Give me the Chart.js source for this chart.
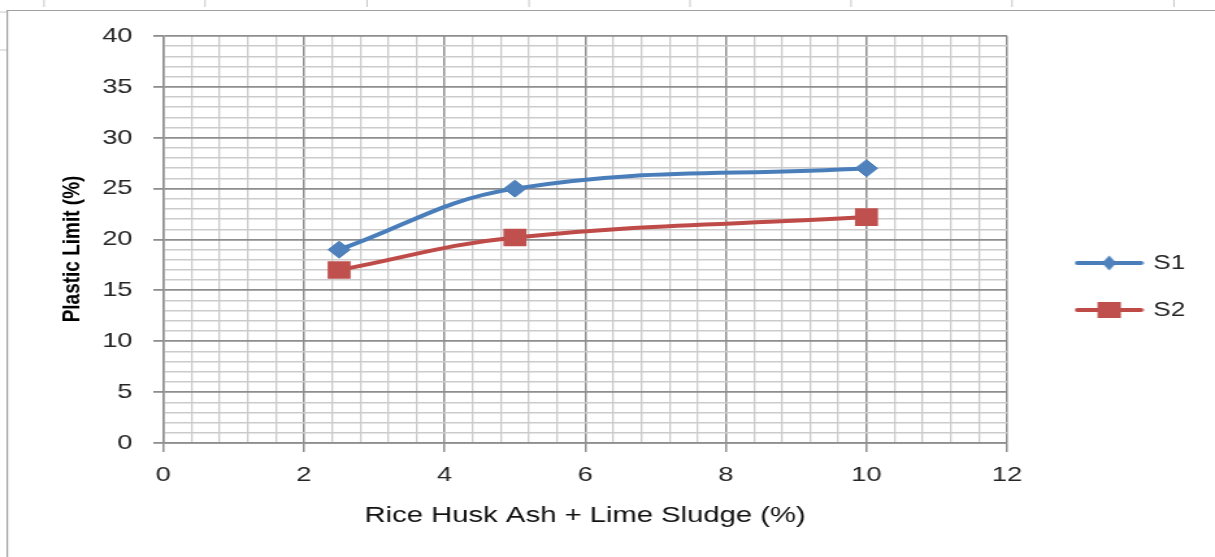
<!DOCTYPE html>
<html><head><meta charset="utf-8">
<script src="https://cdn.jsdelivr.net/npm/chart.js@4/dist/chart.umd.min.js"></script>
<style>html,body{margin:0;padding:0;background:#fff;overflow:hidden}canvas{display:block}</style>
</head><body>
<canvas id="c" width="935" height="557" style="width:1215px;height:557px"></canvas>
<script>
// ---- data ----
const xValues = [2.5, 5, 10];
const s1Values = [19, 25, 27];
const s2Values = [17, 20.2, 22.2];
const seriesNames = ['S1', 'S2'];
const xTickLabels = ['0', '2', '4', '6', '8', '10', '12'];
const yTickLabels = ['0', '5', '10', '15', '20', '25', '30', '35', '40'];
const xTitle = 'Rice Husk Ash + Lime Sludge (%)';
const yTitle = 'Plastic Limit (%)';

// ---- layout / style ----
const W = 935, H = 557, S = 1215 / 935;
const PAD = {top: 36, left: 38, right: 13, bottom: 20};
const PLOT_LEFT = 125.7, PLOT_RIGHT = 775;
const FONT = "'Liberation Sans', Arial, sans-serif";
const MAJOR = '#8e8e8e', MINOR = '#cbcbcb';
const BLUE_L = '#4A7EBB', BLUE_M = '#4F81BD', RED_L = '#BE4B48', RED_M = '#C0504D';

const isMajorX = v => Math.abs(v / 2 - Math.round(v / 2)) < 1e-6;
const isMajorY = v => Math.abs(v / 5 - Math.round(v / 5)) < 1e-6;

function makeIcon(color, fill, style) {
  const c = document.createElement('canvas');
  c.width = 54; c.height = 22;
  const g = c.getContext('2d');
  g.strokeStyle = color; g.lineWidth = 4; g.lineCap = 'round';
  g.beginPath(); g.moveTo(2.5, 11); g.lineTo(51.5, 11); g.stroke();
  g.fillStyle = fill;
  if (style === 'diamond') {
    g.beginPath(); g.moveTo(21.5, 11); g.lineTo(27, 3.5); g.lineTo(32.5, 11); g.lineTo(27, 18.5); g.closePath(); g.fill();
  } else {
    g.fillRect(18, 3, 18, 16);
  }
  return c;
}
const icons = [makeIcon(BLUE_L, BLUE_M, 'diamond'), makeIcon(RED_L, RED_M, 'square')];

const framePlugin = {
  id: 'frame',
  beforeDraw(chart) {
    const ctx = chart.ctx;
    ctx.save();
    ctx.fillStyle = '#fff';
    ctx.fillRect(0, 0, chart.width, chart.height);
    ctx.strokeStyle = '#a0a0a0'; ctx.lineWidth = 1.2;
    ctx.beginPath();
    ctx.moveTo(5.6, H); ctx.lineTo(5.6, 10.5); ctx.lineTo(W, 10.5);
    ctx.stroke();
    ctx.strokeStyle = '#c8c8c8'; ctx.lineWidth = 1;
    ctx.beginPath();
    [44, 205, 367, 529, 690, 851, 1012, 1174].forEach(px => { const x = px / S; ctx.moveTo(x, 0); ctx.lineTo(x, 7); });
    [12, 50].forEach(py => { ctx.moveTo(0, py); ctx.lineTo(5, py); });
    ctx.stroke();
    ctx.restore();
  }
};

new Chart(document.getElementById('c'), {
  type: 'line',
  data: {
    datasets: [
      {
        label: seriesNames[0],
        data: xValues.map((x, i) => ({x: x, y: s1Values[i]})),
        borderColor: BLUE_L, backgroundColor: BLUE_M,
        pointStyle: 'rectRot', pointRadius: 8.5, pointBorderWidth: 1,
        pointBackgroundColor: BLUE_M, pointBorderColor: BLUE_L,
        borderWidth: 4, tension: 0.4, borderCapStyle: 'round', borderJoinStyle: 'round', fill: false
      },
      {
        label: seriesNames[1],
        data: xValues.map((x, i) => ({x: x, y: s2Values[i]})),
        borderColor: RED_L, backgroundColor: RED_M,
        pointStyle: 'rect', pointRadius: 12.5, pointBorderWidth: 0,
        pointBackgroundColor: RED_M, pointBorderColor: RED_M,
        borderWidth: 4, tension: 0.4, borderCapStyle: 'round', borderJoinStyle: 'round', fill: false
      }
    ]
  },
  options: {
    responsive: false,
    devicePixelRatio: 1,
    animation: false,
    events: [],
    layout: {padding: PAD},
    scales: {
      x: {
        type: 'linear', min: 0, max: 12,
        afterFit(s) { s.height = H - PAD.bottom - 443; },
        ticks: {
          stepSize: 0.4, autoSkip: false, maxRotation: 0, padding: 11,
          font: {family: FONT, size: 21}, color: '#262626',
          callback: v => isMajorX(v) ? xTickLabels[Math.round(v / 2)] : ''
        },
        grid: {
          color: c => (c.tick && isMajorX(c.tick.value)) ? MAJOR : MINOR,
          tickColor: c => (c.tick && isMajorX(c.tick.value)) ? MAJOR : 'rgba(0,0,0,0)',
          lineWidth: c => (c.tick && isMajorX(c.tick.value)) ? 1.5 : 1.3,
          tickLength: 9
        },
        border: {color: MAJOR, width: 1.5},
        title: {display: true, text: xTitle, font: {family: FONT, size: 22.5}, color: '#111', padding: {top: 0, bottom: 8}}
      },
      y: {
        type: 'linear', min: 0, max: 40,
        afterFit(s) { s.width = PLOT_LEFT - PAD.left; },
        ticks: {
          stepSize: 1, autoSkip: false, padding: 16,
          font: {family: FONT, size: 21}, color: '#262626',
          callback: v => isMajorY(v) ? yTickLabels[Math.round(v / 5)] : ''
        },
        grid: {
          color: c => (c.tick && isMajorY(c.tick.value)) ? MAJOR : MINOR,
          tickColor: c => (c.tick && isMajorY(c.tick.value)) ? MAJOR : 'rgba(0,0,0,0)',
          lineWidth: c => (c.tick && isMajorY(c.tick.value)) ? 1.8 : 1.6,
          tickLength: 7.7
        },
        border: {color: MAJOR, width: 1.5},
        title: {display: true, text: yTitle + '\u2002\u2002', font: {family: FONT, size: 19, weight: 'bold'}, color: '#000', padding: {top: 6, bottom: 0}}
      },
      yR: {
        type: 'linear', position: 'right', display: true, min: 0, max: 40,
        grid: {display: false, drawTicks: false}, border: {display: false}, ticks: {display: false},
        afterFit(s) {
          const lw = (s.chart.legend && s.chart.legend.width) ? s.chart.legend.width : 120;
          s.width = Math.max(0, W - PAD.right - lw - PLOT_RIGHT);
        }
      }
    },
    plugins: {
      tooltip: {enabled: false},
      legend: {
        position: 'right', align: 'center',
        labels: {
          usePointStyle: true, pointStyleWidth: 48, padding: 27,
          font: {family: FONT, size: 20}, color: '#262626',
          generateLabels(chart) {
            const items = Chart.defaults.plugins.legend.labels.generateLabels(chart);
            items.forEach((it, i) => { it.pointStyle = icons[i]; });
            return items;
          }
        }
      }
    }
  },
  plugins: [framePlugin]
});
</script>
</body></html>
